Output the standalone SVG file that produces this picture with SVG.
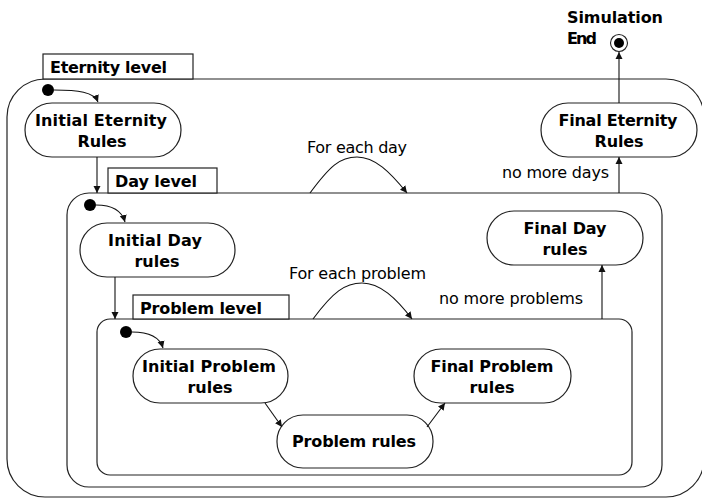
<svg xmlns="http://www.w3.org/2000/svg" width="702" height="498" viewBox="0 0 702 498">
<defs>
<marker id="ah" markerUnits="userSpaceOnUse" markerWidth="8" markerHeight="8" refX="7" refY="4" orient="auto">
<path d="M0,0.5 L7,4 L0,7.5 z" fill="#111"/>
</marker>
<style>
.frame{fill:none;stroke:#222;stroke-width:1.2}
.tab{fill:#fff;stroke:#222;stroke-width:1.2}
.node{fill:#fff;stroke:#222;stroke-width:1.2}
.b{font-family:"DejaVu Sans",sans-serif;font-weight:bold;font-size:16px;fill:#000}
.n{font-family:"DejaVu Sans",sans-serif;font-size:16px;fill:#000}
.c{text-anchor:middle}
.e{fill:none;stroke:#111;stroke-width:1.1;marker-end:url(#ah)}
.dot{fill:#000}
</style>
</defs>
<rect width="702" height="498" fill="#fff"/>

<g id="eternity-level">
<rect class="frame" x="7" y="79" width="697" height="418" rx="38" ry="38"/>
<rect class="tab" x="43" y="54" width="150" height="25"/>
<text class="b" x="50" y="73" textLength="117">Eternity level</text>
</g>
<g id="day-level">
<rect class="frame" x="67" y="193" width="595" height="294" rx="22" ry="22"/>
<rect class="tab" x="108" y="168" width="109" height="25"/>
<text class="b" x="115" y="187" textLength="82">Day level</text>
</g>
<g id="problem-level">
<rect class="frame" x="97" y="319" width="535" height="156" rx="13" ry="13"/>
<rect class="tab" x="133" y="295" width="156" height="24"/>
<text class="b" x="140" y="314" textLength="122">Problem level</text>
</g>

<g id="eternity-start"><circle class="dot" cx="48" cy="90" r="6"/></g>
<g id="day-start"><circle class="dot" cx="90" cy="205" r="6"/></g>
<g id="problem-start"><circle class="dot" cx="126" cy="332" r="6"/></g>
<g id="simulation-end">
<circle cx="619" cy="43" r="8.5" fill="#fff" stroke="#222" stroke-width="1.1"/>
<circle class="dot" cx="619" cy="43" r="5"/>
<text class="b" x="567" y="23" textLength="96">Simulation</text>
<text class="b" x="567" y="44" textLength="30">End</text>
</g>

<g id="initial-eternity-rules">
<rect class="node" x="25" y="103" width="156" height="54" rx="27" ry="27"/>
<text class="b c" x="101" y="126" textLength="132">Initial Eternity</text>
<text class="b c" x="102" y="147" textLength="49">Rules</text>
</g>
<g id="final-eternity-rules">
<rect class="node" x="541" y="103" width="156" height="54" rx="27" ry="27"/>
<text class="b c" x="618" y="126" textLength="119">Final Eternity</text>
<text class="b c" x="619" y="147" textLength="49">Rules</text>
</g>
<g id="initial-day-rules">
<rect class="node" x="80" y="223" width="155" height="54" rx="27" ry="27"/>
<text class="b c" x="155" y="246" textLength="94">Initial Day</text>
<text class="b c" x="157" y="267">rules</text>
</g>
<g id="final-day-rules">
<rect class="node" x="487" y="211" width="156" height="54" rx="27" ry="27"/>
<text class="b c" x="565" y="234" textLength="83">Final Day</text>
<text class="b c" x="565" y="255">rules</text>
</g>
<g id="initial-problem-rules">
<rect class="node" x="133" y="349" width="155" height="54" rx="27" ry="27"/>
<text class="b c" x="209" y="372" textLength="134">Initial Problem</text>
<text class="b c" x="210" y="393">rules</text>
</g>
<g id="problem-rules">
<rect class="node" x="277" y="415" width="156" height="53" rx="26" ry="26"/>
<text class="b c" x="354" y="447" textLength="124">Problem rules</text>
</g>
<g id="final-problem-rules">
<rect class="node" x="414" y="349" width="157" height="54" rx="27" ry="27"/>
<text class="b c" x="492" y="372" textLength="123">Final Problem</text>
<text class="b c" x="492" y="393">rules</text>
</g>

<g id="connectors">
<path class="e" d="M54,90 C78,90 94,92 98,102"/>
<path class="e" d="M96,205 C112,205 122,211 125,222"/>
<path class="e" d="M132,332 C150,332 160,338 163,348"/>
<path class="e" d="M97,157 L97,193"/>
<path class="e" d="M115,277 L115,319"/>
<path class="e" d="M265,403 L282,427"/>
<path class="e" d="M427,427 L445,403"/>
<path class="e" d="M602,319 L602,265"/>
<path class="e" d="M619,193 L619,157"/>
<path class="e" d="M619,103 L619,52"/>
<path class="e" d="M310,193 C330,166 340,157 357,157 C375,157 390,172 407,193"/>
<path class="e" d="M313,319 C333,292 345,283 362,283 C380,283 396,298 412,319"/>
<text class="n" x="307" y="153" textLength="100">For each day</text>
<text class="n" x="289" y="279" textLength="137">For each problem</text>
<text class="n" x="502" y="178" textLength="107">no more days</text>
<text class="n" x="439" y="304" textLength="144">no more problems</text>
</g>
</svg>
